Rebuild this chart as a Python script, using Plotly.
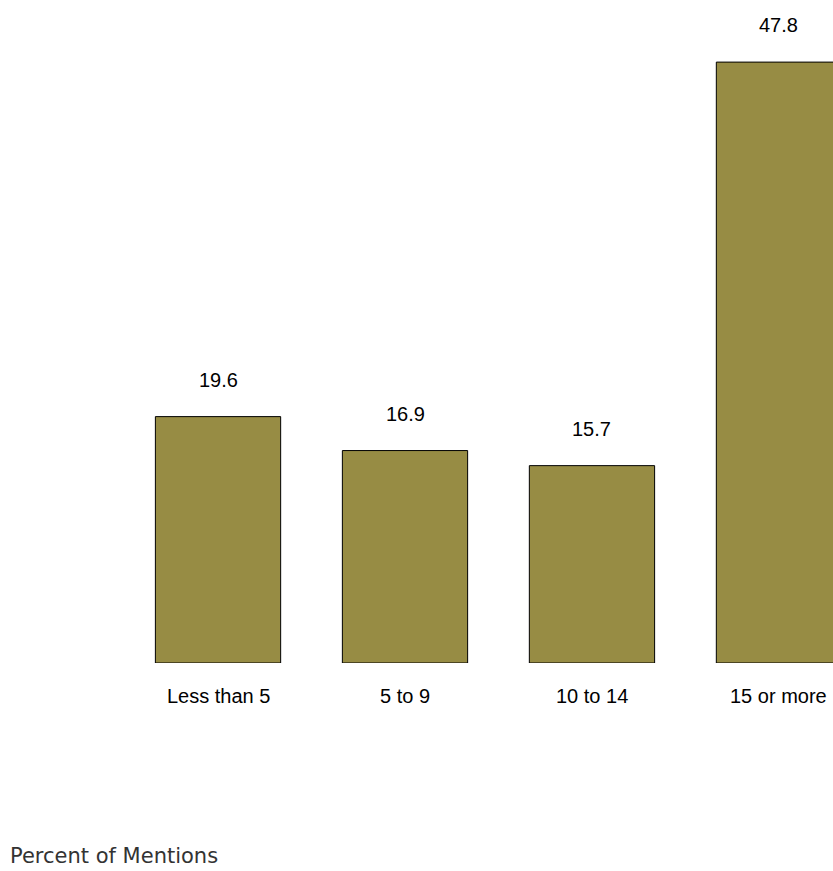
import plotly.graph_objects as go

categories = ["Less than 5", "5 to 9", "10 to 14", "15 or more"]
values = [19.6, 16.9, 15.7, 47.8]
value_labels = ["19.6", "16.9", "15.7", "47.8"]

fig = go.Figure()
fig.add_trace(go.Bar(
    x=list(range(len(categories))), y=values,
    width=0.67,
    marker=dict(color="#978C44", line=dict(color="#000000", width=1)),
    hoverinfo="skip",
))

for i, (v, t) in enumerate(zip(values, value_labels)):
    fig.add_annotation(x=i, y=v, text=t, showarrow=False, xref="x", yref="y",
                       yanchor="bottom", yshift=24,
                       font=dict(family="Liberation Sans, Arial", size=20, color="#000000"))
for i, c in enumerate(categories):
    fig.add_annotation(x=i, y=0, text=c, showarrow=False, xref="x", yref="y",
                       yanchor="top", yshift=-20,
                       font=dict(family="Liberation Sans, Arial", size=20, color="#000000"))

fig.add_annotation(x=9/833, y=(871-856-208)/663, text="Percent of Mentions", showarrow=False,
                   xref="paper", yref="paper", xanchor="left", yanchor="middle",
                   borderpad=0,
                   font=dict(family="DejaVu Sans", size=21, color="#333333"))

fig.update_layout(
    width=833, height=871,
    margin=dict(l=0, r=0, t=0, b=208),
    paper_bgcolor="white", plot_bgcolor="white",
    showlegend=False,
    xaxis=dict(range=[-1.166, 3.289], visible=False, fixedrange=True),
    yaxis=dict(range=[0, 52.74], visible=False, fixedrange=True),
)
fig.write_html("out.html")
